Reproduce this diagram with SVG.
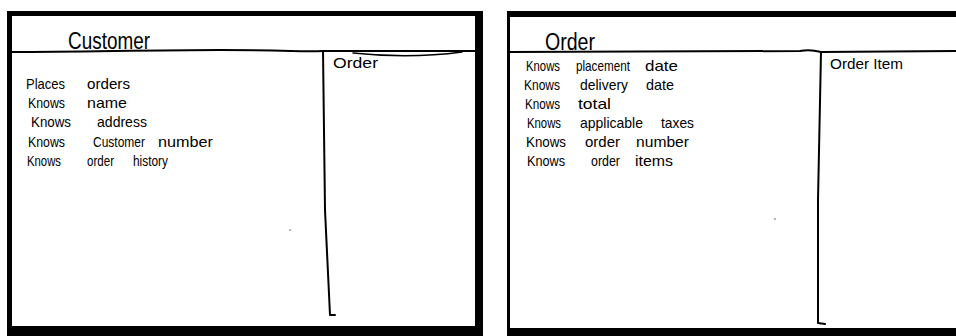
<svg xmlns="http://www.w3.org/2000/svg" width="956" height="336" viewBox="0 0 956 336">
<style>
.frame{fill:#000}
.paper{fill:#fff}
.ink{fill:none;stroke:#000;stroke-width:2;stroke-linecap:round;stroke-linejoin:round}
.thin{fill:none;stroke:#000;stroke-width:1.4;stroke-linecap:round}
text{font-family:"Liberation Sans","DejaVu Sans",sans-serif;fill:#000}
.title{font-size:23px}
.collab{font-size:15px}
.w{font-size:15px}
</style>
<rect x="0" y="0" width="956" height="336" fill="#fff"/>
<g id="card-customer">
  <rect class="frame" x="7" y="11" width="476" height="325"/>
  <rect class="paper" x="12" y="16" width="463" height="310"/>
  <path class="ink" d="M12,52 C80,52 150,50 220,50 S300,52 323,51 L475,51"/>
  <path class="thin" d="M353,53 Q410,59 462,52"/>
  <path class="ink" d="M323,51 L325,210 L330,315 L335,315"/>
  <text class="title" x="68" y="49" textLength="82" lengthAdjust="spacingAndGlyphs">Customer</text>
  <text class="collab" x="333" y="68" textLength="45" lengthAdjust="spacingAndGlyphs">Order</text>
  <text class="w" x="26" y="89" textLength="39" lengthAdjust="spacingAndGlyphs">Places</text>
  <text class="w" x="87" y="89" textLength="43" lengthAdjust="spacingAndGlyphs">orders</text>
  <text class="w" x="28" y="108" textLength="37" lengthAdjust="spacingAndGlyphs">Knows</text>
  <text class="w" x="87" y="108" textLength="40" lengthAdjust="spacingAndGlyphs">name</text>
  <text class="w" x="31" y="127" textLength="40" lengthAdjust="spacingAndGlyphs">Knows</text>
  <text class="w" x="97" y="127" textLength="50" lengthAdjust="spacingAndGlyphs">address</text>
  <text class="w" x="28" y="147" textLength="37" lengthAdjust="spacingAndGlyphs">Knows</text>
  <text class="w" x="93" y="147" textLength="52" lengthAdjust="spacingAndGlyphs">Customer</text>
  <text class="w" x="158" y="147" textLength="55" lengthAdjust="spacingAndGlyphs">number</text>
  <text class="w" x="27" y="166" textLength="34" lengthAdjust="spacingAndGlyphs">Knows</text>
  <text class="w" x="87" y="166" textLength="27" lengthAdjust="spacingAndGlyphs">order</text>
  <text class="w" x="133" y="166" textLength="35" lengthAdjust="spacingAndGlyphs">history</text>
  <circle cx="290" cy="230" r="0.8" fill="#555"/>
</g>
<g id="card-order">
  <rect class="frame" x="507" y="11" width="449" height="325"/>
  <rect class="paper" x="510" y="17" width="446" height="311"/>
  <path class="ink" d="M510,52 L800,51 Q810,49 821,52 L956,51"/>
  <path class="ink" d="M821,52 L818,200 L818,323 L825,324"/>
  <text class="title" x="545" y="50" textLength="50" lengthAdjust="spacingAndGlyphs">Order</text>
  <text class="collab" x="830" y="69" textLength="73" lengthAdjust="spacingAndGlyphs">Order Item</text>
  <text class="w" x="526" y="71" textLength="34" lengthAdjust="spacingAndGlyphs">Knows</text>
  <text class="w" x="576" y="71" textLength="54" lengthAdjust="spacingAndGlyphs">placement</text>
  <text class="w" x="645" y="71" textLength="33" lengthAdjust="spacingAndGlyphs">date</text>
  <text class="w" x="524" y="90" textLength="36" lengthAdjust="spacingAndGlyphs">Knows</text>
  <text class="w" x="580" y="90" textLength="48" lengthAdjust="spacingAndGlyphs">delivery</text>
  <text class="w" x="646" y="90" textLength="28" lengthAdjust="spacingAndGlyphs">date</text>
  <text class="w" x="525" y="109" textLength="35" lengthAdjust="spacingAndGlyphs">Knows</text>
  <text class="w" x="578" y="109" textLength="33" lengthAdjust="spacingAndGlyphs">total</text>
  <text class="w" x="527" y="128" textLength="34" lengthAdjust="spacingAndGlyphs">Knows</text>
  <text class="w" x="580" y="128" textLength="63" lengthAdjust="spacingAndGlyphs">applicable</text>
  <text class="w" x="661" y="128" textLength="33" lengthAdjust="spacingAndGlyphs">taxes</text>
  <text class="w" x="526" y="147" textLength="40" lengthAdjust="spacingAndGlyphs">Knows</text>
  <text class="w" x="585" y="147" textLength="35" lengthAdjust="spacingAndGlyphs">order</text>
  <text class="w" x="636" y="147" textLength="53" lengthAdjust="spacingAndGlyphs">number</text>
  <text class="w" x="527" y="166" textLength="38" lengthAdjust="spacingAndGlyphs">Knows</text>
  <text class="w" x="591" y="166" textLength="29" lengthAdjust="spacingAndGlyphs">order</text>
  <text class="w" x="635" y="166" textLength="38" lengthAdjust="spacingAndGlyphs">items</text>
  <circle cx="775" cy="219" r="0.8" fill="#555"/>
</g>
<g id="connectors"></g>
</svg>
